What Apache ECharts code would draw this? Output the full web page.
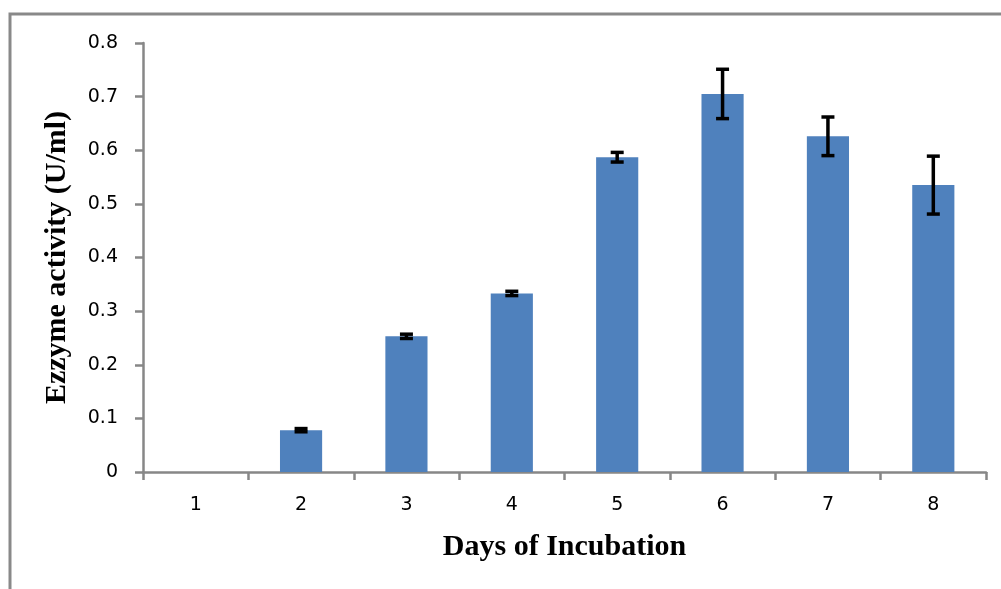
<!DOCTYPE html>
<html>
<head>
<meta charset="utf-8">
<script src="https://cdn.jsdelivr.net/npm/echarts@6/dist/echarts.min.js"></script>
<style>
html,body{margin:0;padding:0;background:#fff;}
#chart{width:1001px;height:589px;}
</style>
</head>
<body>
<div id="chart"></div>
<script>
const categories = ['1', '2', '3', '4', '5', '6', '7', '8'];
const activity = [0, 0.078, 0.253, 0.333, 0.587, 0.705, 0.626, 0.535];
const stdError = [0, 0.003, 0.004, 0.004, 0.009, 0.046, 0.036, 0.054];
const yTicks = [0, 0.1, 0.2, 0.3, 0.4, 0.5, 0.6, 0.7, 0.8];

const errorData = categories.map((c, i) => [i, activity[i] - stdError[i], activity[i] + stdError[i]]);

const chart = echarts.init(document.getElementById('chart'));
chart.setOption({
  animation: false,
  backgroundColor: '#ffffff',
  graphic: [{
    type: 'rect',
    shape: { x: 10, y: 14, width: 2000, height: 2000 },
    style: { fill: 'none', stroke: '#898989', lineWidth: 3 },
    silent: true,
    z: -1
  }],
  grid: { left: 143, right: 15, top: 43, bottom: 117, containLabel: false },
  xAxis: {
    type: 'category',
    data: categories,
    name: 'Days of Incubation',
    nameLocation: 'middle',
    nameGap: 60,
    nameTextStyle: { fontFamily: 'Liberation Serif', fontWeight: 'bold', fontSize: 30, color: '#000' },
    axisLine: { lineStyle: { color: '#878787', width: 2.5 } },
    axisTick: { show: true, length: 8, lineStyle: { color: '#878787', width: 2.5 } },
    axisLabel: { margin: 24, fontFamily: 'DejaVu Sans', fontSize: 19, color: '#000' },
    splitLine: { show: false }
  },
  yAxis: {
    type: 'value',
    min: yTicks[0],
    max: yTicks[yTicks.length - 1],
    interval: 0.1,
    name: 'Ezzyme activity (U/ml)',
    nameLocation: 'middle',
    nameGap: 71,
    nameRotate: 90,
    nameTextStyle: { fontFamily: 'Liberation Serif', fontWeight: 'bold', fontSize: 30, color: '#000' },
    axisLine: { show: true, lineStyle: { color: '#878787', width: 2.5 } },
    axisTick: { show: true, length: 8, lineStyle: { color: '#878787', width: 2.5 } },
    axisLabel: {
      margin: 25, fontFamily: 'DejaVu Sans', fontSize: 19, color: '#000',
      formatter: v => String(Math.round(v * 10) / 10)
    },
    splitLine: { show: false }
  },
  series: [
    {
      type: 'bar',
      data: activity,
      barWidth: '40%',
      itemStyle: { color: '#4F81BD' }
    },
    {
      type: 'custom',
      data: errorData,
      z: 10,
      renderItem: function (params, api) {
        const x = api.value(0);
        const lo = api.coord([x, api.value(1)]);
        const hi = api.coord([x, api.value(2)]);
        if (api.value(2) - api.value(1) <= 0) return { type: 'group', children: [] };
        const hw = 6.5;
        const st = { stroke: '#000', lineWidth: 3.5 };
        return {
          type: 'group',
          children: [
            { type: 'line', shape: { x1: hi[0], y1: hi[1], x2: lo[0], y2: lo[1] }, style: st },
            { type: 'line', shape: { x1: hi[0] - hw, y1: hi[1], x2: hi[0] + hw, y2: hi[1] }, style: st },
            { type: 'line', shape: { x1: lo[0] - hw, y1: lo[1], x2: lo[0] + hw, y2: lo[1] }, style: st }
          ]
        };
      }
    }
  ]
});
</script>
</body>
</html>
